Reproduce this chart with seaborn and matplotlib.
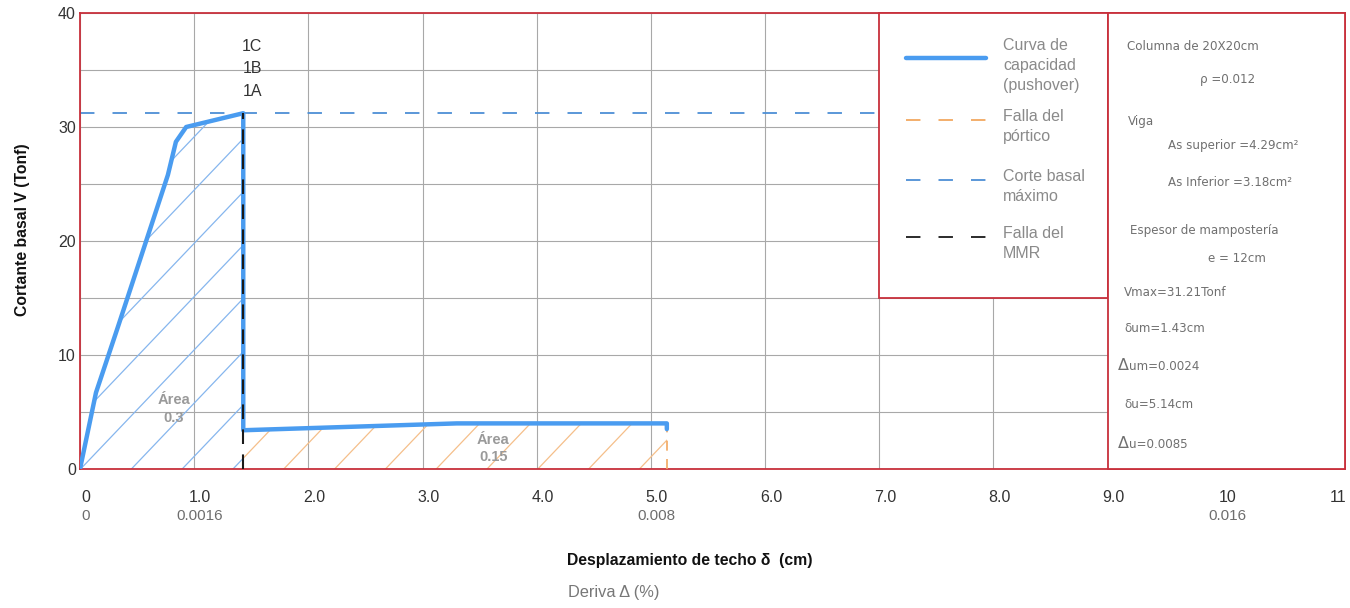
import numpy as np
import matplotlib
matplotlib.use("Agg")
import matplotlib.pyplot as plt
import matplotlib.transforms as mtransforms
from matplotlib.patches import Polygon, Rectangle
from matplotlib.lines import Line2D
import seaborn as sns

# ---------------- data ----------------
disp_cm = [0.0, 0.14, 0.33, 0.77, 0.84, 0.93, 1.43, 1.43, 3.3, 5.14, 5.14]
shear_tonf = [0.0, 6.7, 12.4, 25.8, 28.7, 30.0, 31.21, 3.4, 4.0, 4.0, 3.5]
peak_index = 6
v_max = 31.21
d_um = 1.43
d_u = 5.14
v_end = 4.0

x_ticks = [0, 1, 2, 3, 4, 5, 6, 7, 8, 9, 10, 11]
x_tick_labels = ["0", "1.0", "2.0", "3.0", "4.0", "5.0", "6.0", "7.0", "8.0", "9.0", "10", "11"]
drift_pos = [0, 1, 5, 10]
drift_labels = ["0", "0.0016", "0.008", "0.016"]
y_ticks = [0, 10, 20, 30, 40]
y_minor = [5, 15, 25, 35]

area_labels = ["Área\n0.3", "Área\n0.15"]
area_x = [0.82, 3.62]
area_y = [5.3, 1.8]
hinge_labels = ["1A", "1B", "1C"]
hinge_y = [33.1, 35.1, 37.1]

legend_labels = ["Curva de\ncapacidad\n(pushover)", "Falla del\npórtico",
                 "Corte basal\nmáximo", "Falla del\nMMR"]
info_lines = ["Columna de 20X20cm", "ρ =0.012", "Viga", "As superior =4.29cm²",
              "As Inferior =3.18cm²", "Espesor de mampostería", "e = 12cm",
              "Vmax=31.21Tonf", "δum=1.43cm", "Δum=0.0024", "δu=5.14cm", "Δu=0.0085"]

# ---------------- style ----------------
sns.set_theme(style="white")
plt.rcParams["font.family"] = ["Liberation Sans", "DejaVu Sans"]

BLUE = "#4a9cf0"
BLUE_D = "#4d8fd6"
ORANGE = "#f2a860"
BLACK = "#1a1a1a"
RED = "#c8303c"
GRID = "#a8a8a8"
GRAY_T = "#8a8a8a"

W, H = 1350, 608
fig = plt.figure(figsize=(13.5, 6.08), dpi=100)
ax = fig.add_axes([80 / W, 1 - 469 / H, (1345 - 80) / W, (469 - 13) / H])
ax.set_xlim(0, 11.08)
ax.set_ylim(0, 40)

# grid
ax.set_xticks(x_ticks)
ax.set_xticklabels(x_tick_labels)
ax.set_yticks(y_ticks)
ax.set_yticks(y_minor, minor=True)
ax.grid(True, which="both", color=GRID, lw=0.8, zorder=0)
ax.set_axisbelow(True)
ax.tick_params(axis="both", which="both", length=0)
ax.tick_params(axis="x", labelsize=11.5, labelcolor="#333333", pad=15)
ax.tick_params(axis="y", labelsize=11.5, labelcolor="#333333", pad=3)
labels = ax.get_xticklabels()
for i, lab in enumerate(labels):
    dx = 6 if i < len(labels) - 1 else 2
    lab.set_transform(lab.get_transform() + mtransforms.ScaledTranslation(dx / 100, 0, fig.dpi_scale_trans))

for s in ax.spines.values():
    s.set_color(RED)
    s.set_linewidth(1.3)

# hatched areas
blue_poly = Polygon(list(zip(disp_cm[:peak_index + 1], shear_tonf[:peak_index + 1])) + [(d_um, 0)],
                    closed=True, facecolor="none", edgecolor="none")
orange_poly = Polygon([(d_um, 0)] + list(zip(disp_cm[peak_index + 1:-1], shear_tonf[peak_index + 1:-1])) + [(d_u, 0)],
                      closed=True, facecolor="none", edgecolor="none")
ax.add_patch(blue_poly)
ax.add_patch(orange_poly)
step, slope = 0.445, 10.5
for c in np.arange(-4.0, 6.0, step):
    for poly, col in ((blue_poly, "#86b6ee"), (orange_poly, "#f5bf8a")):
        ln = Line2D([c, c + 40 / slope], [0, 40], color=col, lw=0.9, zorder=1.5)
        ax.add_line(ln)
        ln.set_clip_path(poly)

# reference lines
ax.plot([0, 9], [v_max, v_max], color=BLUE_D, lw=1.3, ls=(0, (8, 10)), zorder=2)
ax.plot([d_u, d_u], [0, v_end], color=ORANGE, lw=1.2, ls=(0, (6, 5)), zorder=3)

# capacity curve
sns.lineplot(x=disp_cm, y=shear_tonf, sort=False, estimator=None, color=BLUE,
             lw=3.2, ax=ax, zorder=4, legend=False)

ax.plot([d_um, d_um], [0, v_max], color=BLACK, lw=1.5, ls=(0, (7, 5)), zorder=5)

# text annotations in plot
for lab, yy in zip(hinge_labels, hinge_y):
    ax.text(d_um + 0.08, yy, lab, ha="center", va="center", fontsize=11.5, color="#333333")
for lab, xx, yy in zip(area_labels, area_x, area_y):
    ax.text(xx, yy, lab, ha="center", va="center", fontsize=10.5, color="#9a9a9a",
            fontweight="bold", linespacing=1.35, zorder=6)

# drift second row of labels
for p, lab in zip(drift_pos, drift_labels):
    ax.text(p, 0, lab, transform=mtransforms.blended_transform_factory(ax.transData, ax.transAxes)
            + mtransforms.ScaledTranslation(6 / 100, -47 / 100, fig.dpi_scale_trans),
            ha="center", va="center", fontsize=11, color="#6e6e6e")

# boxes (legend box and info box)
ax.add_patch(Rectangle((7, 15), 2, 25, facecolor="white", edgecolor=RED, lw=1.3, zorder=3.5, clip_on=False))
ax.add_patch(Rectangle((9, 0), 2.08, 40, facecolor="white", edgecolor=RED, lw=1.3, zorder=3.5, clip_on=False))

# legend (manual, inside the legend box)
tf = fig.transFigure
def fx(px):
    return px / W
def fy(py):
    return 1 - py / H
legend_styles = [dict(color=BLUE, lw=3.2, ls="-"),
                 dict(color=ORANGE, lw=1.3, ls=(0, (8, 10))),
                 dict(color=BLUE_D, lw=1.3, ls=(0, (8, 10))),
                 dict(color=BLACK, lw=1.3, ls=(0, (8, 10)))]
legend_handle_y = [58, 120, 180, 237]
legend_text_top = [38, 109, 169, 226]
for lab, st, hy, ty in zip(legend_labels, legend_styles, legend_handle_y, legend_text_top):
    fig.add_artist(Line2D([fx(906), fx(986)], [fy(hy), fy(hy)], transform=tf, **st))
    fig.text(fx(1003), fy(ty), lab, ha="left", va="top", fontsize=11.5, color=GRAY_T, linespacing=1.42)

# info box text
info_xy = [(1127, 47), (1200, 80), (1128, 121), (1168, 145), (1168, 183), (1130, 231), (1208, 259),
           (1124, 292), (1124, 328), (1118, 366), (1124, 404), (1118, 444)]
for lab, (px, py) in zip(info_lines, info_xy):
    if lab.startswith("Δ"):
        fig.text(fx(px), fy(py), lab[0], ha="left", va="center", fontsize=11.5, color="#707070",
                 family=["DejaVu Sans"])
        fig.text(fx(px + 11), fy(py + 1), lab[1:], ha="left", va="center", fontsize=8.6, color="#707070",
                 family=["DejaVu Sans"])
    else:
        fig.text(fx(px), fy(py), lab, ha="left", va="center", fontsize=8.6, color="#707070",
                 family=["DejaVu Sans"])

# axis labels
ax.set_ylabel("Cortante basal V (Tonf)", fontsize=11.3, fontweight="bold", color="#111111")
ax.yaxis.set_label_coords(-50 / (1345 - 80), 0.525)
fig.text(fx(690), fy(560), "Desplazamiento de techo δ  (cm)", ha="center", va="center",
         fontsize=11.3, fontweight="bold", color="#111111")
fig.text(fx(568), fy(593), "Deriva Δ (%)", ha="left", va="center", fontsize=11.8, color="#777777")

fig.savefig("out.png", dpi=100)
